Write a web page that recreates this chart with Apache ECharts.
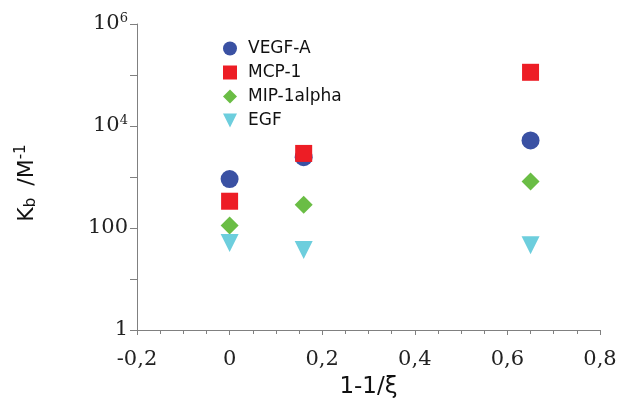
<!DOCTYPE html>
<html>
<head>
<meta charset="utf-8">
<script src="https://cdn.jsdelivr.net/npm/echarts@6/dist/echarts.min.js"></script>
<style>
  html, body { margin: 0; padding: 0; background: #fff; }
  #chart { width: 621px; height: 404px; }
</style>
</head>
<body>
<div id="chart"></div>
<script>
// x positions (1-1/xi) and binding constants Kb (M^-1)
var xValues = [0, 0.16, 0.65];
var vegfA = [910, 2450, 5200];
var mcp1 = [335, 2900, 113000];
var mip1alpha = [112, 285, 820];
var egf = [51, 37, 46];

var seriesNames = ['VEGF-A', 'MCP-1', 'MIP-1alpha', 'EGF'];
var seriesColors = ['#3a51a3', '#ed1d25', '#6abd45', '#6dcedd'];

var pairs = function(ys) {
  return xValues.map(function(x, i) { return [x, ys[i]]; });
};

var chart = echarts.init(document.getElementById('chart'));

var supRich = {
  b: { fontFamily: 'DejaVu Serif', fontSize: 21, color: '#222' },
  s: { fontFamily: 'DejaVu Serif', fontSize: 13, color: '#222', padding: [0, 0, 10, 0] }
};

var option = {
  animation: false,
  grid: { left: 137, right: 21, top: 24, bottom: 72 },
  legend: {
    orient: 'vertical',
    left: 218,
    top: 35,
    itemWidth: 14,
    itemHeight: 14,
    itemGap: 7,
    symbolKeepAspect: true,
    data: [
      { name: 'VEGF-A' },
      { name: 'MCP-1' },
      { name: 'MIP-1alpha' },
      // down-pointing triangle, like the EGF markers
      { name: 'EGF', icon: 'path://M0,0 L10,0 L5,10 Z' }
    ],
    textStyle: { fontFamily: 'DejaVu Sans', fontSize: 17, color: '#111', padding: [0, 0, 0, 6] }
  },
  xAxis: {
    type: 'value',
    min: -0.2,
    max: 0.8,
    interval: 0.2,
    name: '1-1/ξ',
    nameLocation: 'middle',
    nameGap: 46,
    nameTextStyle: { fontFamily: 'DejaVu Sans', fontSize: 23, color: '#111' },
    axisLine: { show: true, onZero: false, lineStyle: { color: '#808080', width: 1 } },
    axisTick: { show: true, length: 5, lineStyle: { color: '#808080' } },
    minorTick: { show: true, splitNumber: 4, length: 4, lineStyle: { color: '#808080' } },
    splitLine: { show: false },
    axisLabel: {
      margin: 19,
      fontFamily: 'DejaVu Serif',
      fontSize: 21,
      color: '#222',
      formatter: function(v) {
        var r = Math.round(v * 10) / 10;
        return String(r).replace('.', ',');
      }
    }
  },
  yAxis: {
    type: 'log',
    logBase: 10,
    min: 1,
    max: 1000000,
    interval: 1,
    splitNumber: 6,
    name: '{n|K}{sub|b}{n| /M}{sup|-1}',
    nameLocation: 'middle',
    nameGap: 96,
    nameTextStyle: {
      padding: [0, 12, 0, 0],
      rich: {
        n: { fontFamily: 'DejaVu Sans', fontSize: 22, color: '#111' },
        sub: { fontFamily: 'DejaVu Sans', fontSize: 15, color: '#111', padding: [8, 5, 0, 0] },
        sup: { fontFamily: 'DejaVu Sans', fontSize: 15, color: '#111', padding: [0, 0, 12, 0] }
      }
    },
    axisLine: { show: true, onZero: false, lineStyle: { color: '#808080', width: 1 } },
    axisTick: { show: true, length: 7, lineStyle: { color: '#808080' } },
    splitLine: { show: false },
    axisLabel: {
      margin: 9,
      fontFamily: 'DejaVu Serif',
      fontSize: 21,
      color: '#222',
      rich: supRich,
      formatter: function(v) {
        var e = Math.round(Math.log10(v));
        if (e % 2 !== 0) return '';
        if (e === 0) return '{b|1}';
        if (e === 2) return '{b|100}';
        return '{b|10}{s|' + e + '}';
      }
    }
  },
  series: [
    {
      name: seriesNames[0],
      type: 'scatter',
      symbol: 'circle',
      symbolSize: 18,
      itemStyle: { color: seriesColors[0], opacity: 1 },
      data: pairs(vegfA)
    },
    {
      name: seriesNames[1],
      type: 'scatter',
      symbol: 'rect',
      symbolSize: 17,
      itemStyle: { color: seriesColors[1], opacity: 1 },
      data: pairs(mcp1)
    },
    {
      name: seriesNames[2],
      type: 'scatter',
      symbol: 'diamond',
      symbolSize: 18,
      itemStyle: { color: seriesColors[2], opacity: 1 },
      data: pairs(mip1alpha)
    },
    {
      name: seriesNames[3],
      type: 'scatter',
      symbol: 'triangle',
      symbolRotate: 180,
      symbolSize: 18,
      itemStyle: { color: seriesColors[3], opacity: 1 },
      data: pairs(egf)
    }
  ]
};

chart.setOption(option);
</script>
</body>
</html>
